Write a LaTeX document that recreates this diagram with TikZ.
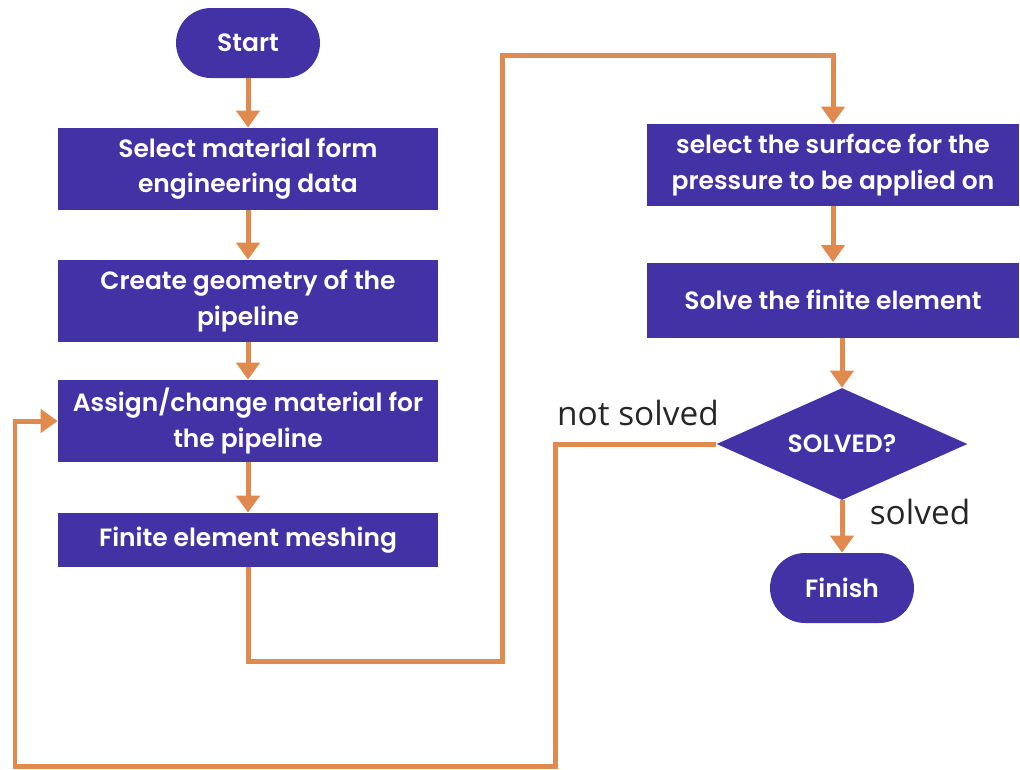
\documentclass[tikz,border=0pt]{standalone}
\usepackage{fontspec}
\setmainfont{Poppins}[BoldFont={Poppins SemiBold}]
\newfontfamily\labelfont{Open Sans}
\usetikzlibrary{shapes.geometric,arrows.meta}
\definecolor{boxpurple}{RGB}{67,49,166}
\definecolor{lineorange}{RGB}{224,138,79}
\begin{document}
\begin{tikzpicture}[x=0.02cm,y=-0.02cm,
  proc/.style={draw=none,fill=boxpurple,text=white,font=\bfseries\fontsize{14.2}{20}\selectfont,align=center,inner sep=0pt},
  term/.style={proc,rounded corners=0.7cm,minimum width=2.88cm,minimum height=1.4cm},
  flow/.style={draw=lineorange,line width=0.1cm,-{Triangle[width=0.46cm,length=0.34cm]}},
  lbl/.style={font=\labelfont\fontsize{19}{22}\selectfont,text=black!85}]
\useasboundingbox (0,0) rectangle (1020,769);
\node [term] (start) at (248,43) {Start};
\node [proc,minimum width=7.6cm,minimum height=1.64cm] (select) at (248,169) {Select material form\\engineering data};
\node [proc,minimum width=7.6cm,minimum height=1.64cm] (geom) at (248,301) {Create geometry of the\\pipeline};
\node [proc,minimum width=7.6cm,minimum height=1.64cm] (assign) at (248,421) {Assign/change material for\\the pipeline};
\node [proc,minimum width=7.6cm,minimum height=1.08cm] (mesh) at (248,540) {Finite element meshing};
\node [proc,minimum width=7.46cm,minimum height=1.64cm] (surface) at (833,165) {select the surface for the\\pressure to be applied on};
\node [proc,minimum width=7.46cm,minimum height=1.5cm] (solve) at (833,300) {Solve the finite element};
\node [proc,diamond,shape aspect=2.24,minimum width=5.02cm,minimum height=2.24cm] (check) at (842,444) {SOLVED?};
\node [term] (finish) at (842,588) {Finish};
\node [lbl] (notsolved) at (638,413) {not solved};
\node [lbl] (solvedlbl) at (920,512) {solved};
\coordinate (up1) at (502,661);
\coordinate (up2) at (833,55);
\coordinate (back1) at (555,766);
\coordinate (back2) at (15,421);
\draw [flow] (start) -- (select);
\draw [flow] (select) -- (geom);
\draw [flow] (geom) -- (assign);
\draw [flow] (assign) -- (mesh);
\draw [flow] (mesh.south) |- (up1) |- (up2) -- (surface.north);
\draw [flow] (surface) -- (solve);
\draw [flow] (solve.south -| check.north) -- (check.north);
\draw [flow] (check) -- (finish);
\draw [flow] (check.west) -| (back1) -| (back2) -- (assign.west);
\end{tikzpicture}
\end{document}
